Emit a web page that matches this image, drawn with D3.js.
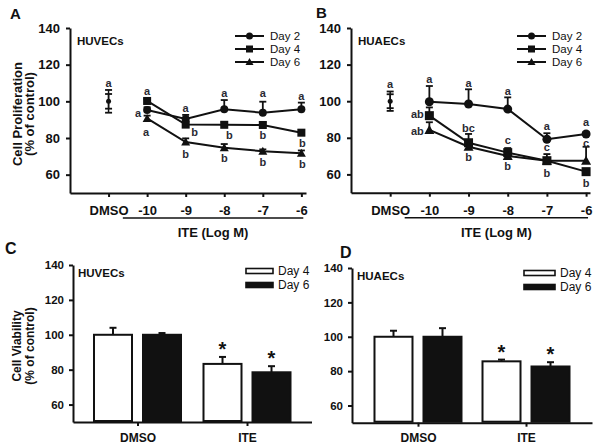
<!DOCTYPE html>
<html><head><meta charset="utf-8">
<script src="https://cdn.jsdelivr.net/npm/d3@7"></script>
<style>
body{margin:0;background:#fff;}
svg text{font-family:Arial,'Liberation Sans',sans-serif;}
</style></head>
<body>
<svg id="c" width="601" height="448"></svg>
<script>
// ---------- DATA ----------
const lineCategories = ["DMSO","-10","-9","-8","-7","-6"];
const concIdx = [1,2,3,4,5];
const seriesNames = ["Day 2","Day 4","Day 6"];

// Panel A (HUVECs) proliferation
const A_day2 = [95.3, 90.4, 95.7, 93.8, 95.7];
const A_day2Err = [1.5, 2.2, 5, 6, 3.6];
const A_day4 = [100.2, 87.3, 87.2, 87.1, 82.9];
const A_day4Err = [1, 1.5, 1.5, 1.5, 1.5];
const A_day6 = [90.7, 77.8, 74.7, 72.8, 71.7];
const A_day6Err = [1.5, 2, 2, 1, 1.5];
const A_dmso = 100;
const A_dmsoErr = [6.2, 4.0];
const A_letters = [
  {i:0,v:109.8,t:"a",dx:0},
  {i:1,v:105.8,t:"a",dx:0},{i:1,v:93.8,t:"a",dx:-9},{i:1,v:83.4,t:"a",dx:-1},
  {i:2,v:96.4,t:"a",dx:0},{i:2,v:83.3,t:"b",dx:9},{i:2,v:71.2,t:"b",dx:0},
  {i:3,v:104.5,t:"a",dx:0},{i:3,v:81.6,t:"b",dx:5},{i:3,v:69.1,t:"b",dx:0},
  {i:4,v:104.5,t:"a",dx:0},{i:4,v:81.6,t:"b",dx:0},{i:4,v:66.9,t:"b",dx:0},
  {i:5,v:102.8,t:"a",dx:0},{i:5,v:77.4,t:"b",dx:1},{i:5,v:65.8,t:"b",dx:1}
];

// Panel B (HUAECs) proliferation
const B_day2 = [99.7, 98.5, 95.7, 79.2, 82.1];
const B_day2Err = [8.6, 8, 6.4, 3.3, 1];
const B_day4 = [92.1, 77.3, 71.9, 67.5, 61.5];
const B_day4Err = [4.5, 4.8, 2.5, 3.6, 1];
const B_day6 = [84.3, 75.1, 70.1, 67.5, 67.5];
const B_day6Err = [4.2, 1.5, 1, 1, 7.6];
const B_dmso = 100;
const B_dmsoErr = [5.3, 3.8];
const B_letters = [
  {i:0,v:109.4,t:"a",dx:0},
  {i:1,v:112,t:"a",dx:0},{i:1,v:92.8,t:"ab",dx:-12},{i:1,v:83.7,t:"ab",dx:-12},
  {i:2,v:110.1,t:"a",dx:0},{i:2,v:85.5,t:"bc",dx:0},{i:2,v:69.3,t:"b",dx:0},
  {i:3,v:105.6,t:"a",dx:0},{i:3,v:78.8,t:"c",dx:0},{i:3,v:64.6,t:"b",dx:0},
  {i:4,v:86.4,t:"a",dx:0},{i:4,v:75,t:"c",dx:0},{i:4,v:60.8,t:"b",dx:0},
  {i:5,v:88.6,t:"a",dx:0},{i:5,v:77.2,t:"c",dx:0},{i:5,v:55.3,t:"b",dx:0}
];

// Bar panels C and D (viability)
const barCategories = ["DMSO","ITE"];
const barSeries = ["Day 4","Day 6"];
const C_day4 = [100, 83.3];
const C_day4Err = [4, 4];
const C_day6 = [100, 78.5];
const C_day6Err = [1, 3.5];
const D_day4 = [100, 85.7];
const D_day4Err = [3.5, 1];
const D_day6 = [100, 82.7];
const D_day6Err = [5, 2.5];
const yTicks = [60,80,100,120,140];

// ---------- DRAW ----------
const svg = d3.select("#c");
svg.append("rect").attr("width",601).attr("height",448).attr("fill","#fff");
const ink = "#111";

function styleAxis(g, fs){
  g.select(".domain").attr("stroke",ink).attr("stroke-width",2);
  g.selectAll(".tick line").attr("stroke",ink).attr("stroke-width",2);
  g.selectAll(".tick text").attr("fill",ink).attr("font-size",fs).attr("font-weight","bold")
    .style("font-family","Arial,'Liberation Sans',sans-serif");
}

function marker(g, type, x, y, s){
  if(type===0){
    g.append("circle").attr("cx",x).attr("cy",y).attr("r",s).attr("fill",ink);
  } else if(type===1){
    g.append("rect").attr("x",x-s).attr("y",y-s).attr("width",2*s).attr("height",2*s).attr("fill",ink);
  } else {
    g.append("path").attr("d",`M${x},${y-s-0.5}L${x+s+0.5},${y+s-0.5}L${x-s-0.5},${y+s-0.5}Z`).attr("fill",ink);
  }
}

function linePanel(cfg){
  const g = svg.append("g");
  const x = d3.scaleLinear().domain([-1, cfg.xMax]).range(cfg.xr);
  const y = d3.scaleLinear().domain([50,140]).range(cfg.yr);
  const ya = g.append("g").attr("transform",`translate(${cfg.xr[0]},0)`)
    .call(d3.axisLeft(y).tickValues(yTicks).tickSize(4).tickPadding(6).tickSizeOuter(0));
  styleAxis(ya, 13);
  const xa = g.append("g").attr("transform",`translate(0,${cfg.yr[0]})`)
    .call(d3.axisBottom(x).tickValues(d3.range(lineCategories.length)).tickFormat(i=>lineCategories[i])
      .tickSize(4).tickPadding(9).tickSizeOuter(0));
  styleAxis(xa, 13);
  g.append("line").attr("x1",x(0.37)).attr("x2",x(5.05)).attr("y1",cfg.yr[0]+25).attr("y2",cfg.yr[0]+25)
    .attr("stroke",ink).attr("stroke-width",1.5);
  g.append("text").attr("x",(x(0.37)+x(5.05))/2).attr("y",cfg.yr[0]+44).attr("text-anchor","middle")
    .attr("font-size",13).attr("font-weight","bold").attr("fill",ink).text("ITE (Log M)");
  cfg.dmsoErr.forEach(e=>{
    g.append("line").attr("x1",x(0)).attr("x2",x(0)).attr("y1",y(cfg.dmso-e)).attr("y2",y(cfg.dmso+e)).attr("stroke",ink).attr("stroke-width",1.5);
    [cfg.dmso-e,cfg.dmso+e].forEach(v=>g.append("line").attr("x1",x(0)-3.5).attr("x2",x(0)+3.5).attr("y1",y(v)).attr("y2",y(v)).attr("stroke",ink).attr("stroke-width",1.8));
  });
  marker(g,0,x(0),y(cfg.dmso),2.5);
  const line = d3.line().x((d,k)=>x(concIdx[k])).y(d=>y(d));
  cfg.series.forEach((s,si)=>{
    g.append("path").attr("d",line(s.v)).attr("fill","none").attr("stroke",ink).attr("stroke-width",2);
  });
  cfg.series.forEach((s,si)=>{
    s.v.forEach((v,k)=>{
      const cx = x(concIdx[k]);
      g.append("line").attr("x1",cx).attr("x2",cx).attr("y1",y(v)).attr("y2",y(v+s.e[k])).attr("stroke",ink).attr("stroke-width",1.8);
      g.append("line").attr("x1",cx-3.5).attr("x2",cx+3.5).attr("y1",y(v+s.e[k])).attr("y2",y(v+s.e[k])).attr("stroke",ink).attr("stroke-width",1.8);
      marker(g,si,cx,y(v),cfg.ms);
    });
  });
  cfg.letters.forEach(L=>{
    g.append("text").attr("x",x(L.i)+L.dx).attr("y",y(L.v)).attr("dy","0.35em").attr("text-anchor","middle")
      .attr("font-size",11).attr("font-weight","bold").attr("fill","#2a2a33").text(L.t);
  });
  seriesNames.forEach((n,k)=>{
    const ly = cfg.leg[1] + k*13;
    g.append("line").attr("x1",cfg.leg[0]).attr("x2",cfg.leg[0]+29).attr("y1",ly).attr("y2",ly).attr("stroke",ink).attr("stroke-width",2);
    marker(g,k,cfg.leg[0]+14.5,ly,3.5);
    g.append("text").attr("x",cfg.leg[0]+35).attr("y",ly).attr("dy","0.36em").attr("font-size",11.5).attr("fill",ink).text(n);
  });
  g.append("text").attr("x",cfg.xr[0]+7).attr("y",cfg.yr[1]+13).attr("dy","0.35em").attr("font-size",11.5).attr("font-weight","bold").attr("fill",ink).text(cfg.cell);
  g.append("text").attr("x",cfg.lab[0]).attr("y",cfg.lab[1]).attr("font-size",15).attr("font-weight","bold").attr("fill",ink).text(cfg.label);
}

function barPanel(cfg){
  const g = svg.append("g");
  const x = d3.scalePoint().domain(barCategories).range(cfg.xr).padding(cfg.pad);
  const sub = d3.scaleBand().domain(barSeries).range([-44.5,44.5]).paddingInner(9/49);
  const y = d3.scaleLinear().domain([50,140]).range(cfg.yr);
  const ya = g.append("g").attr("transform",`translate(${cfg.xr[0]},0)`)
    .call(d3.axisLeft(y).tickValues(yTicks).tickSize(4).tickPadding(5).tickSizeOuter(0));
  styleAxis(ya, 11.5);
  const xa = g.append("g").attr("transform",`translate(0,${cfg.yr[0]})`)
    .call(d3.axisBottom(x).tickSize(4).tickPadding(7).tickSizeOuter(0));
  styleAxis(xa, 12);
  const data = [cfg.d4, cfg.d6], errs = [cfg.e4, cfg.e6];
  barCategories.forEach((c,ci)=>{
    barSeries.forEach((s,si)=>{
      const v = data[si][ci], e = errs[si][ci];
      const bx = x(c)+sub(s), bw = sub.bandwidth();
      const cx = bx + bw/2;
      g.append("line").attr("x1",cx).attr("x2",cx).attr("y1",y(v)).attr("y2",y(v+e)).attr("stroke",ink).attr("stroke-width",2);
      g.append("line").attr("x1",cx-3.5).attr("x2",cx+3.5).attr("y1",y(v+e)).attr("y2",y(v+e)).attr("stroke",ink).attr("stroke-width",2);
      g.append("rect").attr("x",bx+1).attr("y",y(v)).attr("width",bw-2).attr("height",y(50)-y(v)-1)
        .attr("fill",si===0?"#fff":ink).attr("stroke",ink).attr("stroke-width",2);
      if(c==="ITE"){
        g.append("text").attr("x",cx).attr("y",y(v+e)-1).attr("text-anchor","middle").attr("font-size",20).attr("font-weight","bold").attr("fill",ink).text("*");
      }
    });
  });
  barSeries.forEach((s,k)=>{
    const ly = cfg.leg[1] + k*14;
    g.append("rect").attr("x",cfg.leg[0]).attr("y",ly-2.5).attr("width",cfg.leg[2]).attr("height",5)
      .attr("fill",k===0?"#fff":ink).attr("stroke",ink).attr("stroke-width",1.6);
    g.append("text").attr("x",cfg.leg[0]+cfg.leg[2]+5).attr("y",ly).attr("dy","0.36em").attr("font-size",12).attr("fill",ink).text(s);
  });
  g.append("text").attr("x",cfg.xr[0]+5).attr("y",cfg.yr[1]+8).attr("dy","0.35em").attr("font-size",11.5).attr("font-weight","bold").attr("fill",ink).text(cfg.cell);
  g.append("text").attr("x",cfg.lab[0]).attr("y",cfg.lab[1]).attr("font-size",16).attr("font-weight","bold").attr("fill",ink).text(cfg.label);
}

linePanel({xr:[70,306], xMax:5.12, yr:[193,28], dmso:A_dmso, dmsoErr:A_dmsoErr, ms:4,
  series:[{v:A_day2,e:A_day2Err},{v:A_day4,e:A_day4Err},{v:A_day6,e:A_day6Err}],
  letters:A_letters, leg:[235,36], cell:"HUVECs", label:"A", lab:[10,19]});
linePanel({xr:[351,590], xMax:5.1, yr:[192.7,28], dmso:B_dmso, dmsoErr:B_dmsoErr, ms:4.5,
  series:[{v:B_day2,e:B_day2Err},{v:B_day4,e:B_day4Err},{v:B_day6,e:B_day6Err}],
  letters:B_letters, leg:[517,36], cell:"HUAECs", label:"B", lab:[316,18]});
barPanel({xr:[73,311.5], pad:0.589, yr:[422,265], d4:C_day4, e4:C_day4Err, d6:C_day6, e6:C_day6Err,
  leg:[246,271,27], cell:"HUVECs", label:"C", lab:[5,254]});
barPanel({xr:[352,592], pad:0.611, yr:[422.7,268], d4:D_day4, e4:D_day4Err, d6:D_day6, e6:D_day6Err,
  leg:[524,273,31], cell:"HUAECs", label:"D", lab:[340,258]});

function ytitle(lines, cx, cy, fs){
  lines.forEach((t,k)=>{
    svg.append("text").attr("transform",`translate(${cx[k]},${cy}) rotate(-90)`).attr("text-anchor","middle")
      .attr("dy","0.35em").attr("font-size",fs).attr("font-weight","bold").attr("fill",ink).text(t);
  });
}
ytitle(["Cell Proliferation","(% of control)"],[17,29],114,13);
ytitle(["Cell Viability","(% of control)"],[17,30],346,12);
</script>
</body></html>
